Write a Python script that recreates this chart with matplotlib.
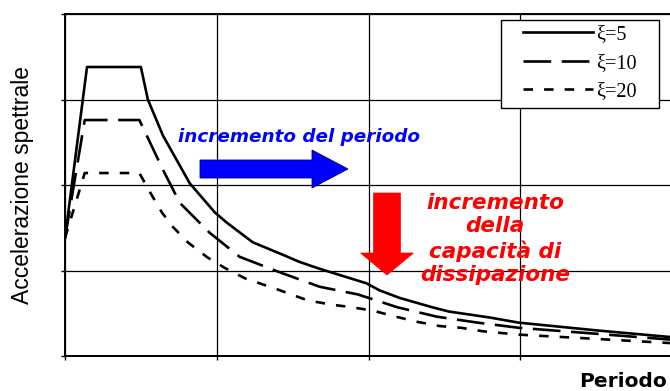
import matplotlib
matplotlib.use("Agg")
import matplotlib.pyplot as plt
from matplotlib.patches import FancyArrow, Rectangle
from matplotlib.transforms import Affine2D

W, H = 670, 391

# spectra (period, spectral acceleration)
t_xi5 = [0.0, 0.145, 0.50, 0.546, 0.645, 0.822, 0.987, 1.066, 1.237, 1.414, 1.546,
         1.678, 1.987, 2.07, 2.204, 2.42, 2.53, 2.80, 2.99, 3.5, 4.0]
a_xi5 = [1.38, 3.38, 3.38, 3.00, 2.58, 2.02, 1.68, 1.56, 1.33, 1.20, 1.10,
         1.02, 0.85, 0.77, 0.68, 0.57, 0.52, 0.45, 0.39, 0.30, 0.22]
t_xi10 = [0.0, 0.13, 0.49, 0.645, 0.757, 0.954, 1.151, 1.414, 1.678, 1.93, 2.19,
          2.45, 2.72, 2.99, 3.5, 4.0]
a_xi10 = [1.38, 2.76, 2.76, 2.18, 1.79, 1.44, 1.16, 0.98, 0.81, 0.72, 0.57,
          0.46, 0.39, 0.33, 0.26, 0.19]
t_xi20 = [0.0, 0.13, 0.49, 0.572, 0.638, 0.711, 0.809, 0.941, 1.053, 1.184, 1.414,
          1.60, 1.76, 1.89, 2.03, 2.18, 2.32, 2.47, 2.61, 2.75, 2.99, 3.5, 4.0]
a_xi20 = [1.38, 2.14, 2.14, 1.88, 1.68, 1.51, 1.33, 1.15, 1.03, 0.91, 0.77,
          0.65, 0.60, 0.57, 0.53, 0.46, 0.40, 0.35, 0.33, 0.29, 0.25, 0.20, 0.15]
labels = ["\u03be=5", "\u03be=10", "\u03be=20"]

fig = plt.figure(figsize=(W / 100, H / 100), dpi=100)
ax = fig.add_axes([65 / W, 1 - 356 / H, 607 / W, 342 / H])

lw = 1.9
ax.plot(t_xi5, a_xi5, color="k", lw=lw, label=labels[0])
ax.plot(t_xi10, a_xi10, color="k", lw=lw, dashes=(10.5, 4), label=labels[1])
ax.plot(t_xi20, a_xi20, color="k", lw=lw, dashes=(3.6, 4.2), label=labels[2])

ax.set_xlim(0, 4)
ax.set_ylim(0, 4)
ax.set_xticks([0, 1, 2, 3, 4])
ax.set_yticks([0, 1, 2, 3, 4])
ax.set_xticklabels([])
ax.set_yticklabels([])
ax.tick_params(direction="out", length=3, width=1, color="k")
ax.grid(True, color="k", lw=0.9)
for s in ax.spines.values():
    s.set_linewidth(1.4)
    s.set_color("k")

# pixel coordinates measured from the top-left corner
pix = Affine2D().scale(1 / W, -1 / H).translate(0, 1) + fig.transFigure

# legend box drawn separately so the padding matches
ax.add_patch(Rectangle((501, 20), 158, 88, transform=pix, facecolor="white",
                       edgecolor="k", lw=1.0, zorder=4, clip_on=False))
leg = ax.legend(loc="upper left", bbox_to_anchor=(523 / W, 1 - 25 / H),
                bbox_transform=fig.transFigure, borderaxespad=0, borderpad=0,
                prop={"family": "Liberation Serif", "size": 14.5},
                handlelength=3.5, handletextpad=0.12, labelspacing=0.47,
                frameon=False)
leg.set_zorder(5)

fig.text(23 / W, 1 - 185 / H, "Accelerazione spettrale", rotation=90,
         ha="center", va="center", family="Liberation Sans", fontsize=16.5)
fig.text(667 / W, 1 - 387 / H, "Periodo", ha="right", va="baseline",
         family="DejaVu Sans", fontweight="bold", fontsize=14.5)

fig.text(178 / W, 1 - 142 / H, "incremento del periodo", color="#0000ff",
         family="DejaVu Sans", fontweight="bold", style="italic", fontsize=13.2)
fig.text(495 / W, 1 - 239 / H, "incremento\ndella\ncapacità di\ndissipazione",
         color="#ff0000", ha="center", va="center", multialignment="center",
         family="DejaVu Sans", fontweight="bold", style="italic", fontsize=15.5,
         linespacing=1.2)

fig.add_artist(FancyArrow(200, 169, 148, 0, width=18, head_width=38, head_length=36,
                          length_includes_head=True, transform=pix,
                          facecolor="#0000ff", edgecolor="#000060", lw=0.6))
fig.add_artist(FancyArrow(387, 193, 0, 82, width=27, head_width=53, head_length=22,
                          length_includes_head=True, transform=pix,
                          facecolor="#ff0000", edgecolor="#ff0000", lw=0.5))

fig.savefig("out.png", dpi=100)
